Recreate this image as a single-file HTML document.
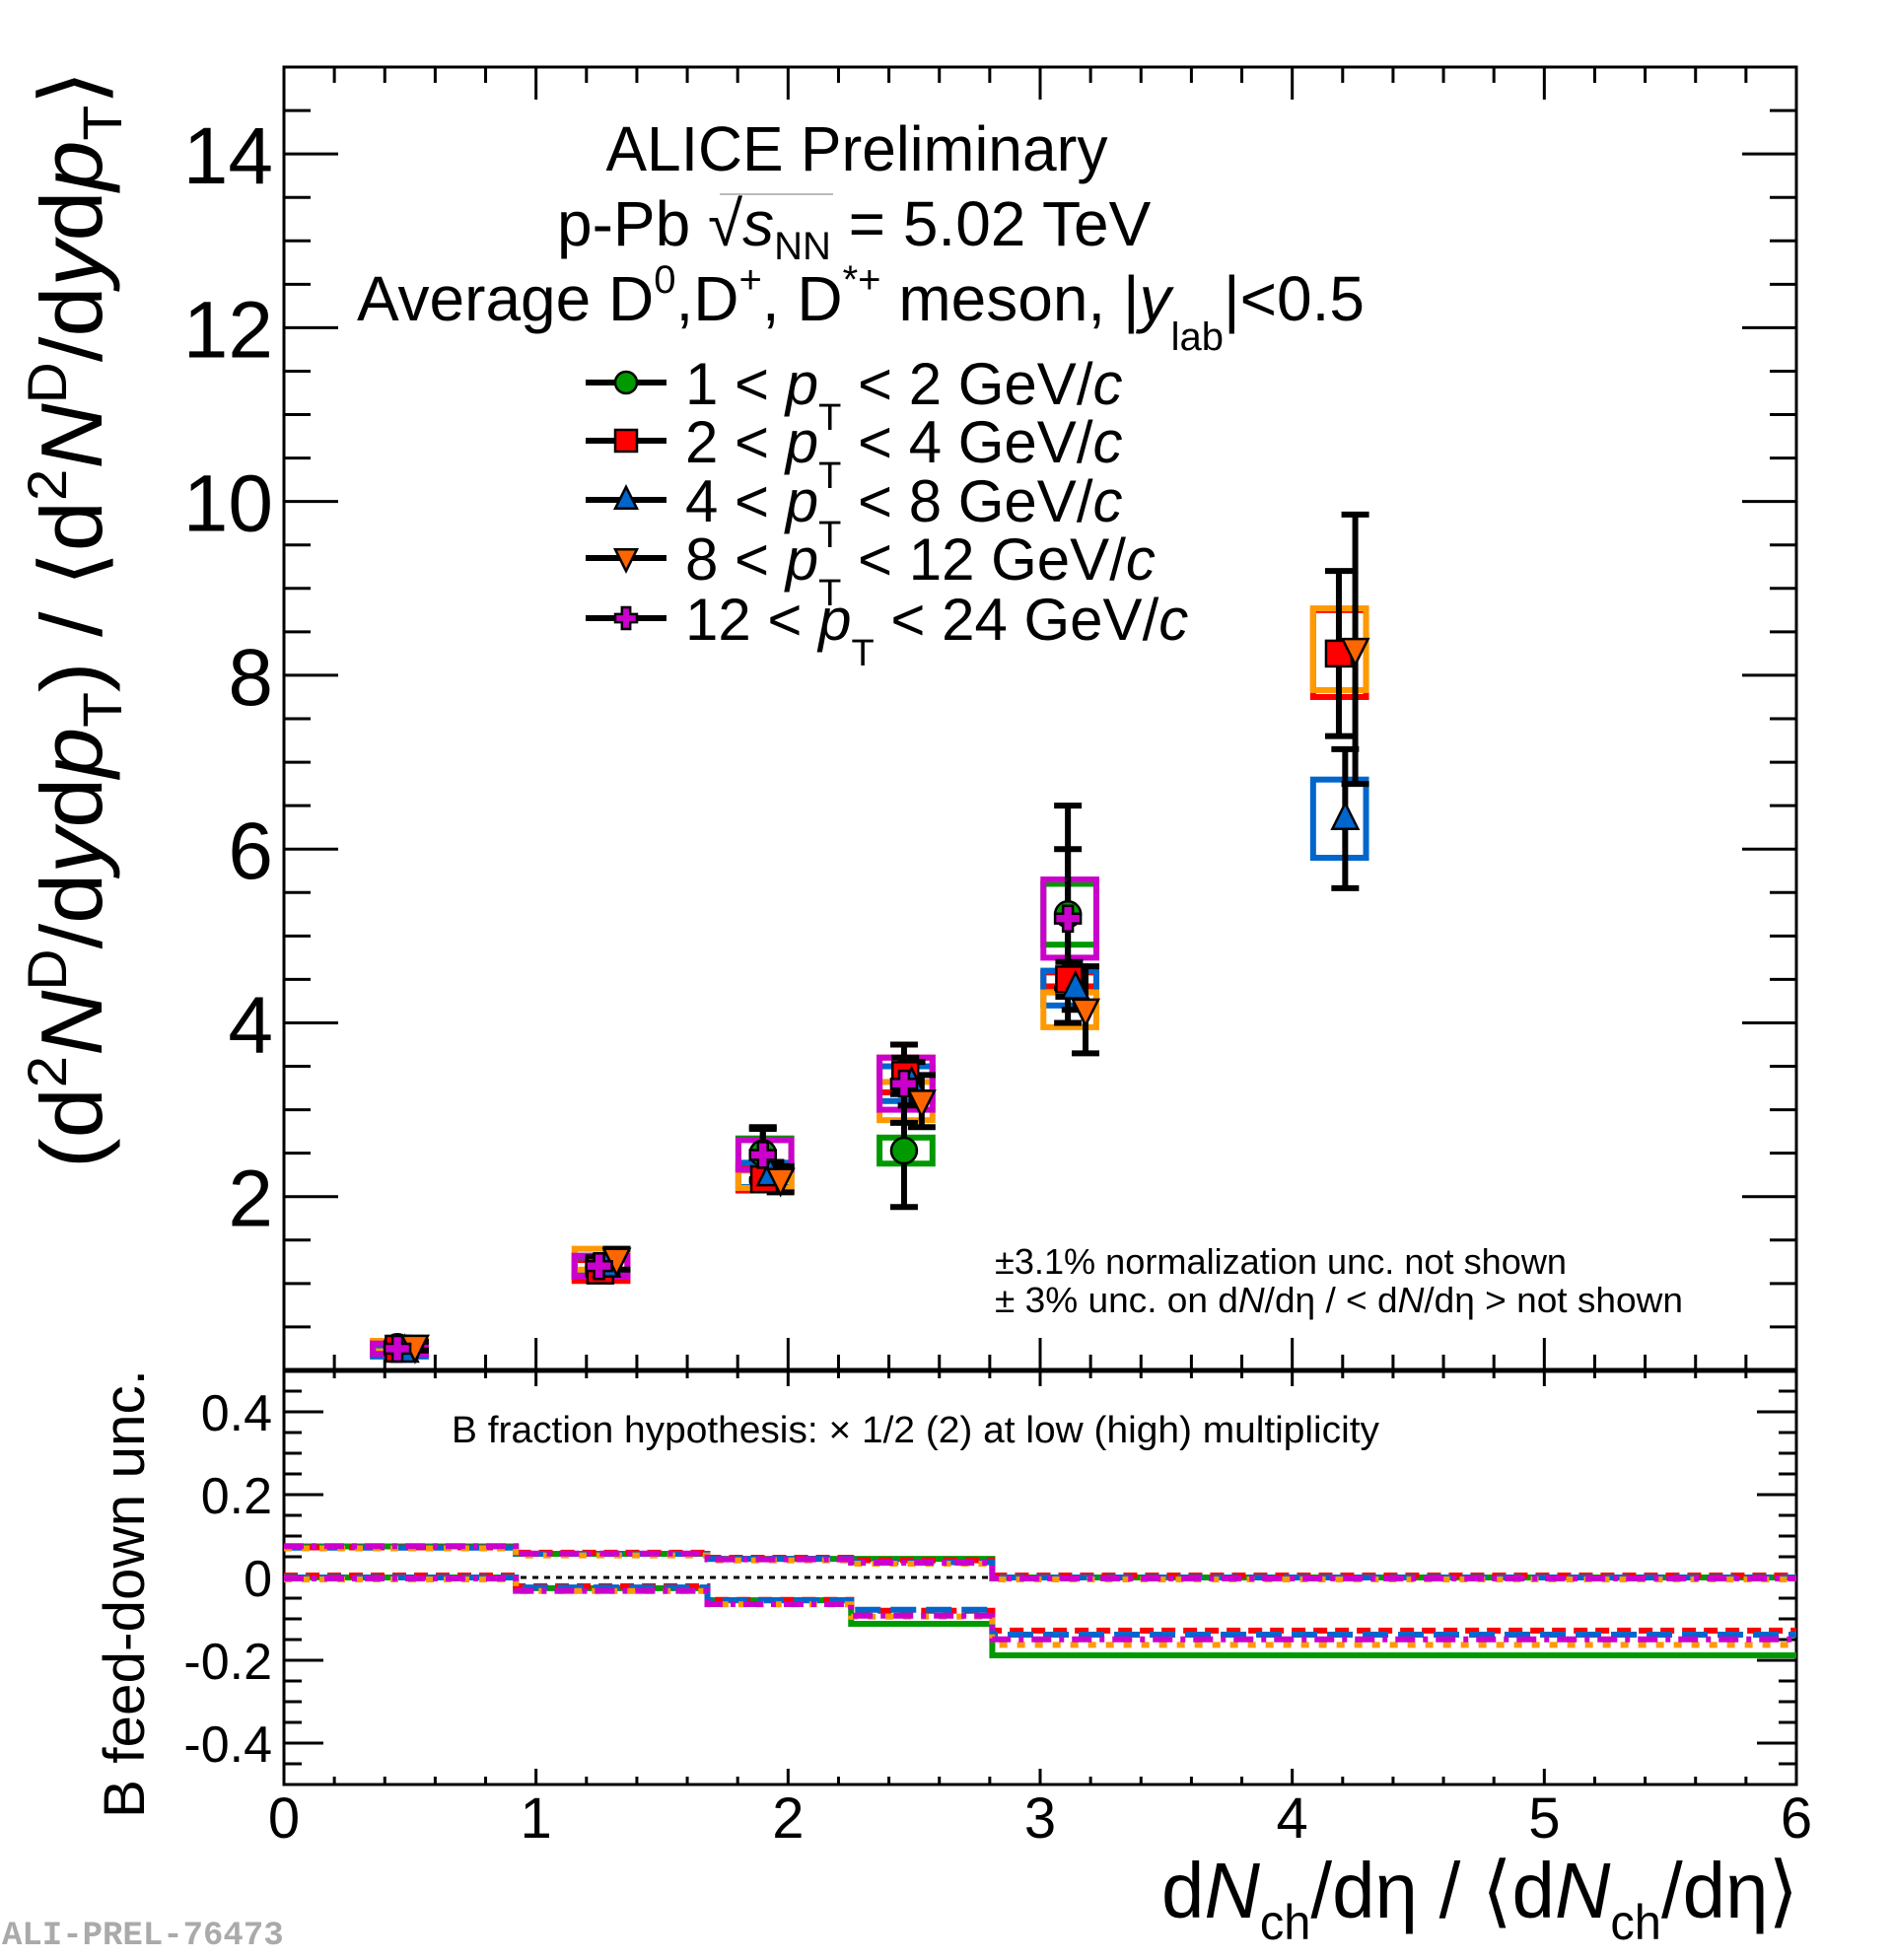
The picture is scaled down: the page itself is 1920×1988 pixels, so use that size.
<!DOCTYPE html>
<html><head><meta charset="utf-8">
<style>
html,body{margin:0;padding:0;background:#fff;}
svg{display:block;font-family:"Liberation Sans",Arial,sans-serif;}
</style></head>
<body>
<svg id="chart" width="1920" height="1988" viewBox="0 0 1920 1988" xmlns="http://www.w3.org/2000/svg">
<rect width="1920" height="1988" fill="#fff"/>
<g id="top-pad"></g>
<g id="bot-pad"></g>

<text x="869" y="173" font-size="64" text-anchor="middle" textLength="509" lengthAdjust="spacingAndGlyphs">ALICE Preliminary</text>
<text x="565" y="249" font-size="64">p-Pb <tspan>√</tspan><tspan font-style="italic">s</tspan><tspan font-size="40" dy="14">NN</tspan><tspan dy="-14"> = 5.02 TeV</tspan></text>
<line x1="730" y1="197" x2="845" y2="197" stroke="#bbb" stroke-width="2"/>
<text x="362" y="325" font-size="64">Average D<tspan font-size="40" dy="-28">0</tspan><tspan dy="28">,D</tspan><tspan font-size="40" dy="-28">+</tspan><tspan dy="28">, D</tspan><tspan font-size="40" dy="-28">*+</tspan><tspan dy="28"> meson, |</tspan><tspan font-style="italic">y</tspan><tspan font-size="40" dy="30">lab</tspan><tspan dy="-30">|&lt;0.5</tspan></text>

<g id="legend"></g>

<text x="1009" y="1292" font-size="36" textLength="580" lengthAdjust="spacingAndGlyphs">±3.1% normalization unc. not shown</text>
<text x="1009" y="1331" font-size="36" textLength="698" lengthAdjust="spacingAndGlyphs">± 3% unc. on d<tspan font-style="italic">N</tspan>/dη / &lt; d<tspan font-style="italic">N</tspan>/dη &gt; not shown</text>
<text x="458" y="1463" font-size="38" textLength="941" lengthAdjust="spacingAndGlyphs">B fraction hypothesis: × 1/2 (2) at low (high) multiplicity</text>

<text transform="translate(103,1185) rotate(-90)" font-size="88" textLength="1114" lengthAdjust="spacingAndGlyphs">(d<tspan font-size="56" dy="-36">2</tspan><tspan dy="36" font-style="italic">N</tspan><tspan font-size="56" dy="-36">D</tspan><tspan dy="36">/d</tspan><tspan font-style="italic">y</tspan>d<tspan font-style="italic">p</tspan><tspan font-size="56" dy="20">T</tspan><tspan dy="-20">) / ⟨d</tspan><tspan font-size="56" dy="-36">2</tspan><tspan dy="36" font-style="italic">N</tspan><tspan font-size="56" dy="-36">D</tspan><tspan dy="36">/d</tspan><tspan font-style="italic">y</tspan>d<tspan font-style="italic">p</tspan><tspan font-size="56" dy="20">T</tspan><tspan dy="-20">⟩</tspan></text>
<text transform="translate(146,1844) rotate(-90)" font-size="58" textLength="455" lengthAdjust="spacingAndGlyphs">B feed-down unc.</text>
<text x="1178" y="1945" font-size="80" textLength="646" lengthAdjust="spacingAndGlyphs">d<tspan font-style="italic">N</tspan><tspan font-size="50" dy="22">ch</tspan><tspan dy="-22">/dη / ⟨d</tspan><tspan font-style="italic">N</tspan><tspan font-size="50" dy="22">ch</tspan><tspan dy="-22">/dη⟩</tspan></text>
<text x="2" y="1972" font-size="34" font-weight="bold" fill="#aaa" font-family="Liberation Mono, monospace">ALI-PREL-76473</text>
</svg>

<script>
const seriesNames = ["1 < pT < 2 GeV/c","2 < pT < 4 GeV/c","4 < pT < 8 GeV/c","8 < pT < 12 GeV/c","12 < pT < 24 GeV/c"];
const seriesColors = ["#009900","#ff0000","#0066cc","#ff6600","#cc00cc"];
const boxColors = ["#009900","#ff0000","#0066cc","#ff9900","#cc00cc"];
const binX = [0.45, 1.25, 1.90, 2.46, 3.11, 4.18];
const xOffset = [0, 0.005, 0.03, 0.07, 0];
const yGreen   = [0.27, 1.20, 2.50, 2.53, 5.25, null];
const yRed     = [0.25, 1.15, 2.20, 3.40, 4.50, 8.25];
const yBlue    = [0.22, 1.20, 2.25, 3.30, 4.40, 6.35];
const yOrange  = [0.28, 1.28, 2.20, 3.10, 4.15, 8.30];
const yMagenta = [0.25, 1.20, 2.48, 3.30, 5.20, null];
const statGreen   = [0.05, 0.10, 0.30, 0.65, 1.25, null];
const statRed     = [0.05, 0.10, 0.12, 0.20, 0.20, 0.95];
const statBlue    = [0.05, 0.08, 0.15, 0.25, 0.25, 0.80];
const statOrange  = [0.05, 0.12, 0.15, 0.30, 0.50, 1.55];
const statMagenta = [0.05, 0.10, 0.30, 0.45, 0.80, null];
const sysGreen   = [0.06, 0.12, 0.17, 0.15, 0.35, null];
const sysRed     = [0.07, 0.12, 0.13, 0.20, 0.08, 0.50];
const sysBlue    = [0.06, 0.10, 0.14, 0.20, 0.20, 0.45];
const sysOrange  = [0.06, 0.12, 0.10, 0.22, 0.20, 0.47];
const sysMagenta = [0.06, 0.12, 0.17, 0.30, 0.45, null];
const yTicksTop = [2,4,6,8,10,12,14];
const yTicksBot = [-0.4,-0.2,0,0.2,0.4];
const yTickLabelsBot = ["-0.4","-0.2","0","0.2","0.4"];
const xTicks = [0,1,2,3,4,5,6];
const fdEdges = [0, 0.92, 1.68, 2.25, 2.81, 6];
const fdUpGreen   = [0.075,0.057,0.045,0.045,0];
const fdUpRed     = [0.068,0.055,0.043,0.037,0];
const fdUpBlue    = [0.072,0.057,0.045,0.037,0];
const fdUpOrange  = [0.075,0.058,0.046,0.038,0];
const fdUpMagenta = [0.078,0.060,0.046,0.038,0];
const fdLoGreen   = [0,-0.026,-0.055,-0.112,-0.188];
const fdLoRed     = [0,-0.026,-0.059,-0.085,-0.133];
const fdLoBlue    = [0,-0.024,-0.055,-0.078,-0.138];
const fdLoOrange  = [0,-0.028,-0.060,-0.090,-0.158];
const fdLoMagenta = [0,-0.030,-0.062,-0.090,-0.147];

const Y = [yGreen,yRed,yBlue,yOrange,yMagenta];
const STAT = [statGreen,statRed,statBlue,statOrange,statMagenta];
const SYS = [sysGreen,sysRed,sysBlue,sysOrange,sysMagenta];
const FDUP = [fdUpGreen,fdUpRed,fdUpBlue,fdUpOrange,fdUpMagenta];
const FDLO = [fdLoGreen,fdLoRed,fdLoBlue,fdLoOrange,fdLoMagenta];

const L=288, R=1822, T=68, M=1390, B=1810;
const xS = v => L + v*(R-L)/6;
const yT = v => M - v*(M-T)/15;
const yB = v => (M+B)/2 - v*(B-M);
const NS="http://www.w3.org/2000/svg";
function mk(tag, attrs, parent){const e=document.createElementNS(NS,tag);for(const k in attrs)e.setAttribute(k,attrs[k]);parent.appendChild(e);return e;}
const topPad=document.getElementById('top-pad'), botPad=document.getElementById('bot-pad'), legG=document.getElementById('legend');

let f1=mk('rect',{x:L,y:T,width:R-L,height:M-T,fill:'none',stroke:'#000','stroke-width':3},topPad);


let f2=mk('rect',{x:L,y:M,width:R-L,height:B-M,fill:'none',stroke:'#000','stroke-width':3},botPad);


let sp=mk('line',{x1:L,y1:M,x2:R,y2:M,stroke:'#000','stroke-width':5},topPad);



for(let i=0;i<=30;i++){
  const v=i*0.2, x=xS(v), maj=(i%5===0);
  const lt=maj?33:16, lb=maj?16:8;
  const g=mk('path',{d:`M${x},${M}v${-lt}M${x},${T}v${lt}M${x},${B}v${-lb}M${x},${M}v${lb}`,stroke:'#000','stroke-width':3},topPad);
  
  
}
xTicks.forEach(v=>{
  const t=mk('text',{x:xS(v),y:1864,'font-size':58,'text-anchor':'middle'},botPad);
  t.textContent=String(v);
  
  
});
for(let i=1;i<30;i++){
  const v=i*0.5, y=yT(v), maj=(i%4===0);
  const l=maj?55:27;
  const g=mk('path',{d:`M${L},${y}h${l}M${R},${y}h${-l}`,stroke:'#000','stroke-width':3},topPad);
  
  
}
yTicksTop.forEach(v=>{
  const t=mk('text',{x:277,y:yT(v)+30,'font-size':82,'text-anchor':'end'},topPad);
  t.textContent=String(v);
  
  
});
for(let i=-9;i<=9;i++){
  const v=i*0.05, y=yB(v), maj=(i%4===0);
  const l=maj?40:18;
  const g=mk('path',{d:`M${L},${y}h${l}M${R},${y}h${-l}`,stroke:'#000','stroke-width':3},botPad);
  
  
}
yTicksBot.forEach((v,i)=>{
  const t=mk('text',{x:276,y:yB(v)+19,'font-size':52,'text-anchor':'end'},botPad);
  t.textContent=yTickLabelsBot[i];
  
  
});

function marker(s, cx, cy, parent, r){
  r=r||13; const c=seriesColors[s]; let e;
  if(s===0) e=mk('circle',{cx,cy,r,fill:c,stroke:'#000','stroke-width':2.5},parent);
  else if(s===1) e=mk('rect',{x:cx-r,y:cy-r,width:2*r,height:2*r,fill:c,stroke:'#000','stroke-width':2.5},parent);
  else if(s===2) e=mk('path',{d:`M${cx},${cy-r*1.2}L${cx+r},${cy+r*0.8}L${cx-r},${cy+r*0.8}Z`,fill:c,stroke:'#000','stroke-width':2.5},parent);
  else if(s===3) e=mk('path',{d:`M${cx},${cy+r*1.2}L${cx+r},${cy-r*0.8}L${cx-r},${cy-r*0.8}Z`,fill:c,stroke:'#000','stroke-width':2.5},parent);
  else { const a=r*0.38, b=r;
    e=mk('path',{d:`M${cx-a},${cy-b}h${2*a}v${b-a}h${b-a}v${2*a}h${-(b-a)}v${b-a}h${-2*a}v${-(b-a)}h${-(b-a)}v${-2*a}h${b-a}Z`,fill:c,stroke:'#000','stroke-width':2.5},parent);}
  return e;
}

for(let s=0;s<5;s++){
  Y[s].forEach((v,i)=>{
    if(v===null) return;
    const xc=xS(binX[i]), hw=0.105*(R-L)/6;
    const y1=yT(v+SYS[s][i]), y2=yT(v-SYS[s][i]);
    const b=mk('rect',{x:xc-hw+2,y:y1,width:2*hw,height:y2-y1,fill:'none',stroke:boxColors[s],'stroke-width':6},topPad);
    
    
  });
}
for(let s=0;s<5;s++){
  Y[s].forEach((v,i)=>{
    if(v===null) return;
    const x=xS(binX[i]+xOffset[s]), e=STAT[s][i];
    const y1=yT(v+e), y2=yT(v-e);
    const p=mk('path',{d:`M${x},${y1}V${y2}M${x-14},${y1}h28M${x-14},${y2}h28`,stroke:'#000','stroke-width':6,fill:'none'},topPad);
    
    
  });
}
for(let s=0;s<5;s++){
  Y[s].forEach((v,i)=>{
    if(v===null) return;
    const m=marker(s, xS(binX[i]+xOffset[s]), yT(v), topPad);
    
    
  });
}

const legY=[388,447,507,566,627];
seriesNames.forEach((n,s)=>{
  const g=mk('g',{},legG);
  
  
  mk('line',{x1:594,y1:legY[s],x2:676,y2:legY[s],stroke:'#000','stroke-width':6},g);
  marker(s,635,legY[s],g,11);
  const parts=n.split('pT');
  const t=mk('text',{x:695,y:legY[s]+22,'font-size':60},g);
  t.appendChild(document.createTextNode(parts[0]));
  const p=mk('tspan',{'font-style':'italic'},t); p.textContent='p';
  const sub=mk('tspan',{'font-size':38,dy:26},t); sub.textContent='T';
  const rest=mk('tspan',{dy:-26},t); rest.textContent=parts[1].replace('/c','/');
  const c=mk('tspan',{'font-style':'italic'},t); c.textContent='c';
});

const dashes=["none","14,8","26,10","8,10","20,8,5,8"];
const fdOff=[0,-2,0,2,1];
function stepPath(vals,off){
  let d='';
  vals.forEach((v,i)=>{
    const y=yB(v)+off, x1=xS(fdEdges[i]), x2=xS(fdEdges[i+1]);
    d+= (i===0?`M${x1},${y}`:`V${y}`)+`H${x2}`;
  });
  return d;
}
const zl=mk('line',{x1:L,y1:yB(0),x2:R,y2:yB(0),stroke:'#000','stroke-width':3,'stroke-dasharray':'6,6'},botPad);


for(let s=0;s<5;s++){
  [FDUP[s],FDLO[s]].forEach((arr,k)=>{
    const p=mk('path',{d:stepPath(arr,fdOff[s]),fill:'none',stroke:s===3?'#ff9900':seriesColors[s],'stroke-width':6,'stroke-dasharray':dashes[s]},botPad);
    
    
  });
}
</script>
</body></html>
